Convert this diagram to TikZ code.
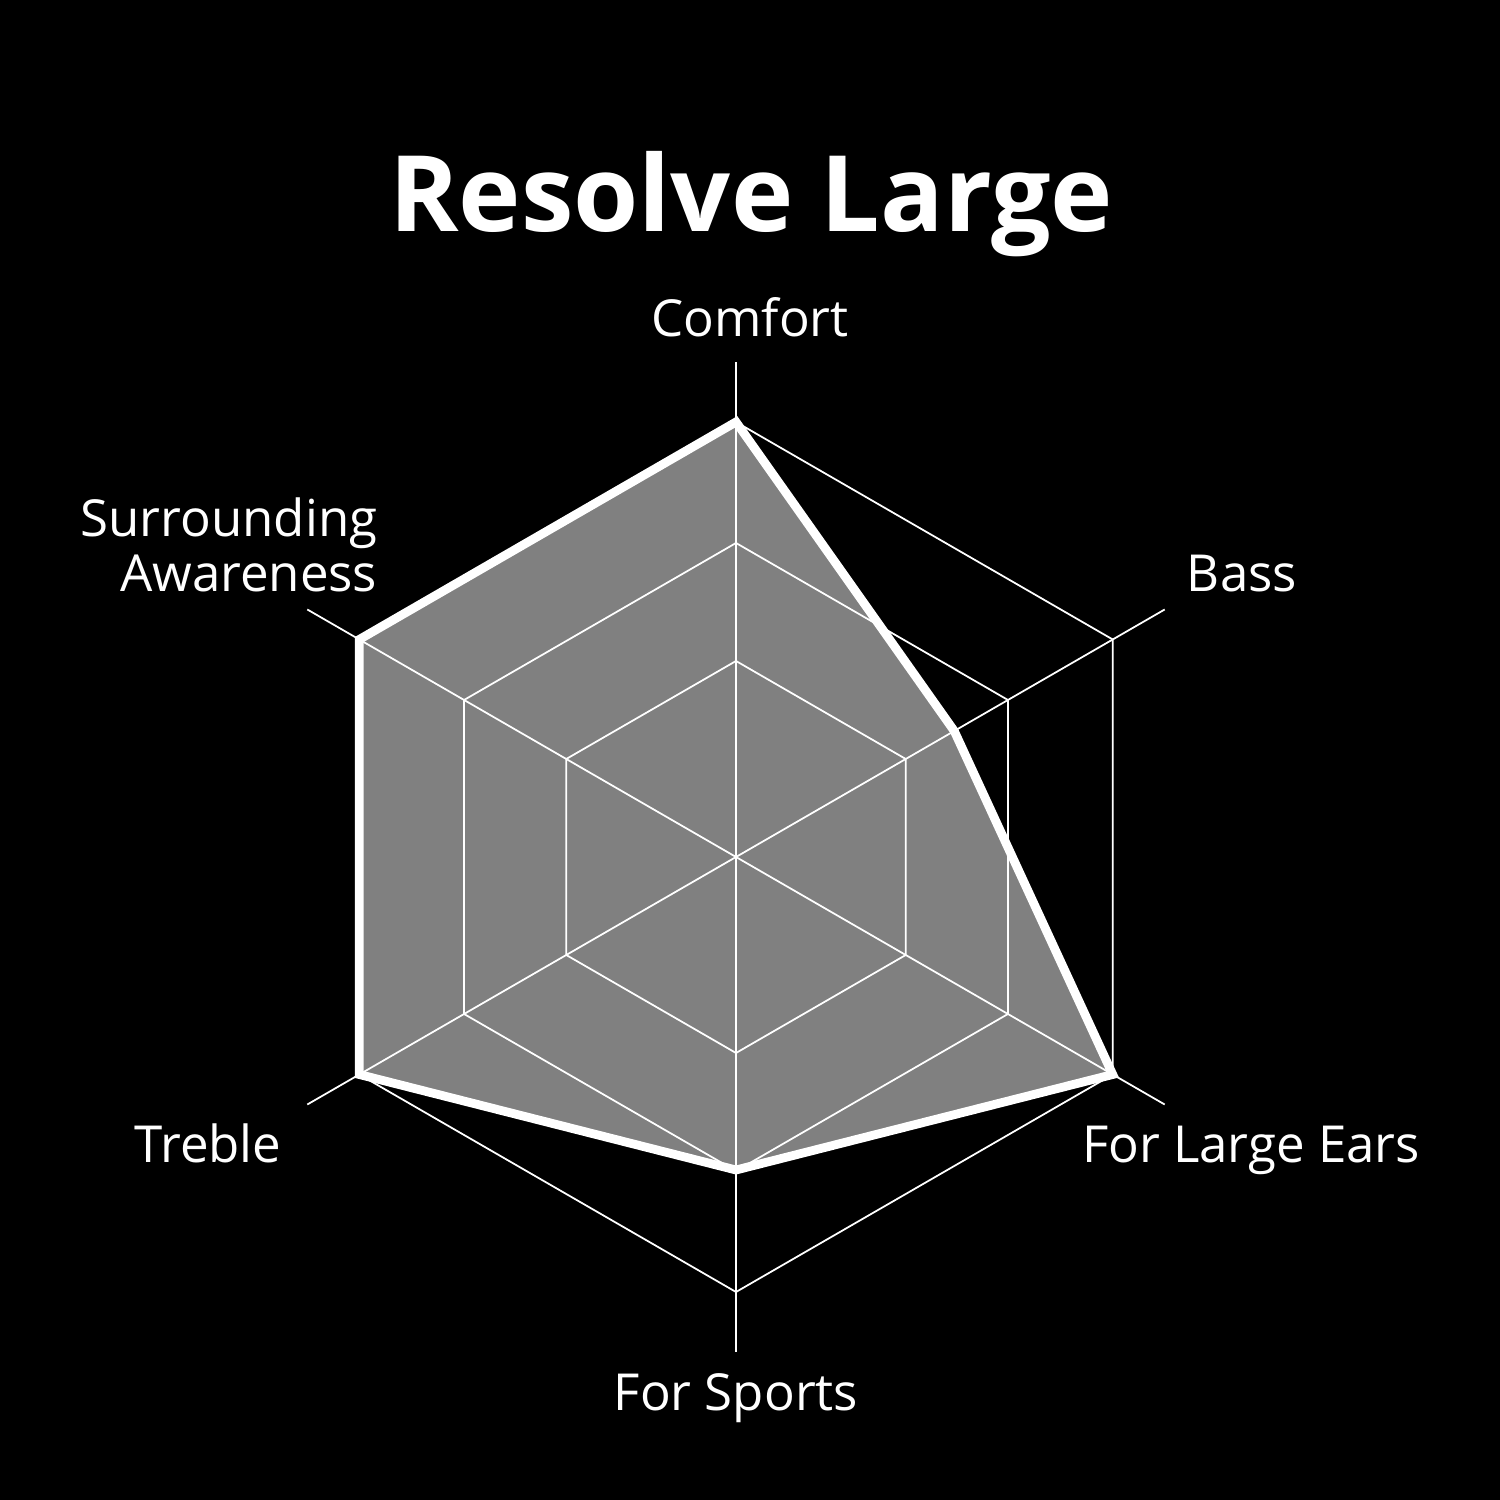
\documentclass[tikz,border=0pt]{standalone}
\usepackage{fontspec}
\setmainfont{Open Sans}
\usetikzlibrary{calc}
\begin{document}
\begin{tikzpicture}[x=0.01cm,y=0.01cm,
  grid/.style={draw=white,line width=0.5pt},
  datapoly/.style={draw=white,fill=datagray,line width=2.5pt,line join=miter},
  lbl/.style={text=white,font=\fontsize{14.5}{14.5}\selectfont,inner sep=0pt,anchor=base},
  ttl/.style={text=white,font=\fontsize{30}{30}\selectfont\bfseries,inner sep=0pt,anchor=base}]
\definecolor{datagray}{HTML}{808080}
\fill[black] (0,0) rectangle (1500,1500);
\useasboundingbox (0,0) rectangle (1500,1500);
\coordinate (c) at (736,643);
% data polygon
\coordinate (d1) at ($(c)+(90:435)$);
\coordinate (d2) at ($(c)+(30:252)$);
\coordinate (d3) at ($(c)+(-30:435)$);
\coordinate (d4) at ($(c)+(-90:313)$);
\coordinate (d5) at ($(c)+(-150:435)$);
\coordinate (d6) at ($(c)+(150:435)$);
\fill[datagray] (d1) -- (d2) -- (d3) -- (d4) -- (d5) -- (d6) -- cycle;
% grid rings
\foreach \r in {196,314,435}{
  \draw[grid] ($(c)+(90:\r)$) -- ($(c)+(30:\r)$) -- ($(c)+(-30:\r)$) -- ($(c)+(-90:\r)$) -- ($(c)+(-150:\r)$) -- ($(c)+(150:\r)$) -- cycle;
}
% axes
\foreach \a/\n in {90/a1,30/a2,-30/a3,-90/a4,-150/a5,150/a6}{
  \coordinate (\n) at ($(c)+(\a:495)$);
  \draw[grid] (c) -- (\n);
}
\draw[datapoly,fill=none] (d1) -- (d2) -- (d3) -- (d4) -- (d5) -- (d6) -- cycle;
% labels
\node[ttl] (title) at (751,1268) {Resolve Large};
\node[lbl] (comfort) at (750,1163) {Comfort};
\node[lbl] (bass) at (1242,908) {Bass};
\node[lbl,anchor=base east] (sur1) at (378,963) {Surrounding};
\node[lbl,anchor=base east] (sur2) at (378,908) {Awareness};
\node[lbl] (ears) at (1251,337) {For Large Ears};
\node[lbl] (treble) at (208,337) {Treble};
\node[lbl] (sports) at (736,90) {For Sports};
\end{tikzpicture}
\end{document}
